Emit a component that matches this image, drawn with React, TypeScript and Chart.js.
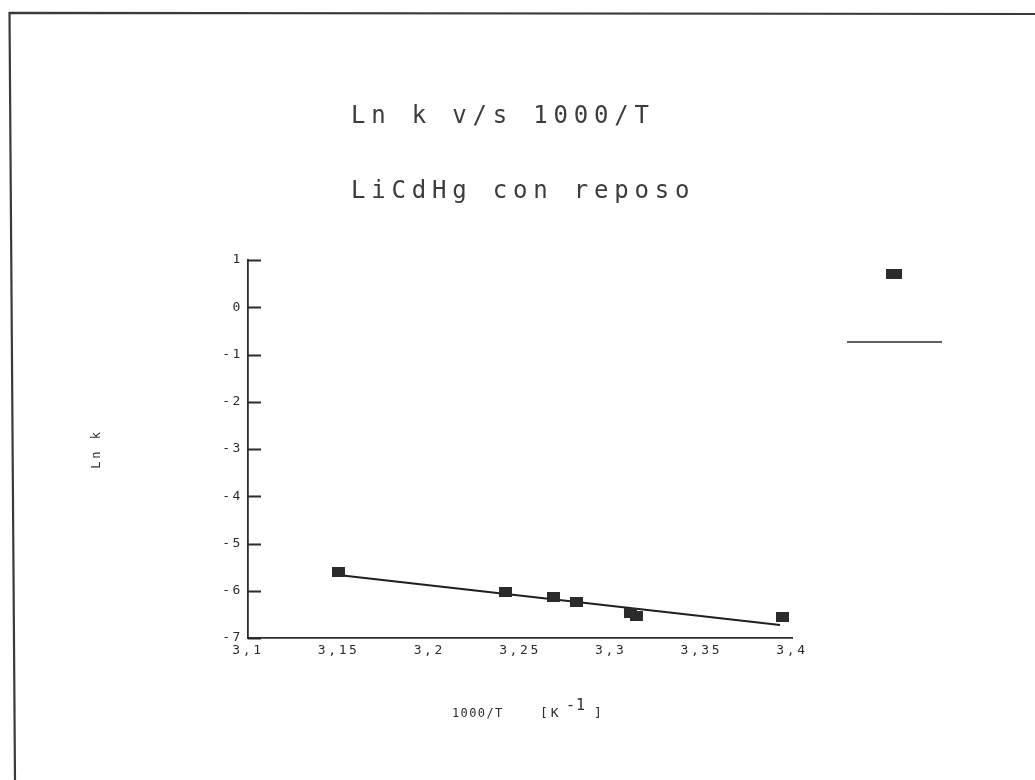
import React, { useEffect, useRef } from 'react';
import { Chart, registerables } from 'chart.js';

Chart.register(...registerables);

// Heading and axis text
const titleLines = ['Ln k v/s 1000/T', 'LiCdHg con reposo'];
const yAxisTitle = 'Ln k';
const xAxisTitleMain = '1000/T';
const xAxisUnitOpen = '[K';
const xAxisUnitExp = '-1';
const xAxisUnitClose = ']';

// Measured points: 1000/T [K^-1] against ln k
const invT = [3.1498, 3.242, 3.2682, 3.2811, 3.3112, 3.314, 3.3947];
const lnK = [-5.61, -6.02, -6.13, -6.24, -6.48, -6.54, -6.56];

// Regression line end points
const fitInvT = [3.1498, 3.3934];
const fitLnK = [-5.667, -6.725];

// Axis ticks
const xTickValues = [3.1, 3.15, 3.2, 3.25, 3.3, 3.35, 3.4];
const xTickLabels = ['3,1', '3,15', '3,2', '3,25', '3,3', '3,35', '3,4'];
const yTickValues = [-7, -6, -5, -4, -3, -2, -1, 0, 1];
const yTickLabels = ['-7', '-6', '-5', '-4', '-3', '-2', '-1', '0', '1'];

const INK = '#2b2b2b';
const MONO = '"DejaVu Sans Mono", monospace';

function makeMarker(w: number, h: number): HTMLCanvasElement {
  const c = document.createElement('canvas');
  c.width = w;
  c.height = h;
  const g = c.getContext('2d')!;
  g.fillStyle = INK;
  g.fillRect(0, 0, w, h);
  return c;
}

// Page frame drawn behind everything
const framePlugin = {
  id: 'pageFrame',
  beforeDraw(chart: any) {
    const ctx = chart.ctx;
    ctx.save();
    ctx.strokeStyle = '#3a3a3a';
    ctx.lineWidth = 2.2;
    ctx.beginPath();
    ctx.moveTo(1035, 14);
    ctx.lineTo(9.5, 12.8);
    ctx.lineTo(15, 780);
    ctx.stroke();
    ctx.restore();
    // plotter-style spaced lettering for the axis texts
    ctx.letterSpacing = '2.6px';
  },
};

// Short tick marks pointing into the plot on the value axis
const innerTicksPlugin = {
  id: 'innerTicks',
  afterDatasetsDraw(chart: any) {
    const { ctx, chartArea, scales } = chart;
    const y = scales.y;
    ctx.save();
    ctx.strokeStyle = INK;
    ctx.lineWidth = 1.8;
    ctx.beginPath();
    yTickValues.forEach((v) => {
      const py = Math.round(y.getPixelForValue(v)) + 0.5;
      ctx.moveTo(chartArea.left, py);
      ctx.lineTo(chartArea.left + 13, py);
    });
    ctx.stroke();
    ctx.restore();
  },
};

// Headings, x-axis caption and the legend key
const textPlugin = {
  id: 'plotterText',
  afterDraw(chart: any) {
    const ctx = chart.ctx;
    ctx.save();
    ctx.fillStyle = '#3c3c3c';
    ctx.textAlign = 'left';
    ctx.textBaseline = 'alphabetic';

    ctx.font = `24px ${MONO}`;
    ctx.letterSpacing = '5.8px';
    ctx.fillText(titleLines[0], 351, 123);
    ctx.fillText(titleLines[1], 351, 198);

    ctx.fillStyle = INK;
    ctx.font = `12px ${MONO}`;
    ctx.letterSpacing = '1.4px';
    ctx.fillText(xAxisTitleMain, 452, 717);
    ctx.font = `13px ${MONO}`;
    ctx.letterSpacing = '3px';
    ctx.fillText(xAxisUnitOpen, 540, 717);
    ctx.fillText(xAxisUnitClose, 594, 717);
    ctx.font = `15px ${MONO}`;
    ctx.letterSpacing = '1px';
    ctx.fillText(xAxisUnitExp, 566, 710);

    // legend key: marker above, line below
    const marker = chart.data.datasets[0].pointStyle as HTMLCanvasElement;
    ctx.drawImage(marker, 886, 269, 16, 10);
    ctx.strokeStyle = INK;
    ctx.lineWidth = 1.6;
    ctx.beginPath();
    ctx.moveTo(847, 342);
    ctx.lineTo(942, 342);
    ctx.stroke();
    ctx.restore();
  },
};

export default function App() {
  const canvasRef = useRef<HTMLCanvasElement | null>(null);

  useEffect(() => {
    const canvas = canvasRef.current;
    if (!canvas) return;
    const marker = makeMarker(13, 10);

    const chart = new Chart(canvas, {
      type: 'scatter',
      data: {
        datasets: [
          {
            label: 'ln k',
            data: invT.map((x, i) => ({ x, y: lnK[i] })),
            pointStyle: marker as any,
            pointRadius: 7,
            showLine: false,
            backgroundColor: INK,
            borderColor: INK,
          },
          {
            label: 'ajuste',
            data: fitInvT.map((x, i) => ({ x, y: fitLnK[i] })),
            showLine: true,
            pointRadius: 0,
            borderColor: '#1f1f1f',
            borderWidth: 2,
            fill: false,
          },
        ],
      },
      options: {
        responsive: false,
        animation: false,
        devicePixelRatio: 1,
        layout: { padding: { left: 90, right: 243, top: 260, bottom: 112 } },
        plugins: {
          legend: { display: false },
          tooltip: { enabled: false },
          title: { display: false },
        },
        scales: {
          x: {
            type: 'linear',
            min: 3.1,
            max: 3.4,
            afterBuildTicks: (s: any) => {
              s.ticks = xTickValues.map((value) => ({ value }));
            },
            afterFit: (s: any) => {
              s.height = 30;
            },
            ticks: {
              autoSkip: false,
              maxRotation: 0,
              padding: 5,
              color: INK,
              font: { family: MONO, size: 13 },
              callback: (_v: any, i: number) => xTickLabels[i],
            },
            grid: { display: false, drawTicks: false },
            border: { display: true, color: INK, width: 1.8 },
          },
          y: {
            type: 'linear',
            min: -7,
            max: 1,
            afterBuildTicks: (s: any) => {
              s.ticks = yTickValues.map((value) => ({ value }));
            },
            afterFit: (s: any) => {
              s.width = 158;
            },
            ticks: {
              autoSkip: false,
              padding: 5,
              color: INK,
              font: { family: MONO, size: 13 },
              callback: (_v: any, i: number) => yTickLabels[i],
            },
            grid: { display: false, drawTicks: false },
            border: { display: true, color: INK, width: 1.8 },
            title: {
              display: true,
              text: yAxisTitle,
              color: INK,
              font: { family: MONO, size: 12 },
              padding: { top: 0, bottom: 0 },
            },
          },
        },
      },
      plugins: [framePlugin, innerTicksPlugin, textPlugin],
    });

    return () => chart.destroy();
  }, []);

  return (
    <div
      style={{
        position: 'fixed',
        left: 0,
        top: 0,
        width: 1035,
        height: 780,
        background: '#fff',
      }}
    >
      <canvas ref={canvasRef} width={1035} height={780} />
    </div>
  );
}
